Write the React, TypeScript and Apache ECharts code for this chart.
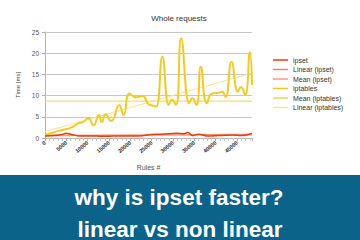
import React, { useEffect, useRef } from "react";
import * as echarts from "echarts";

const titleText = "Whole requests";
const xName = "Rules #";
const yName = "Time [ms]";
const bannerLines = ["why is ipset faster?", "linear vs non linear"];

const iptablesX = [0, 1900, 4100, 6000, 7700, 9000, 10100, 11400, 12600, 13300, 14200, 15500, 17400, 18400, 19800, 21300, 22900, 24200, 25400, 26100, 27500, 29000, 29700, 30700, 31900, 33800, 34500, 35500, 36500, 37900, 39100, 40300, 41500, 42300, 43700, 45200, 45900, 46900, 48000, 48500];
const iptablesY = [0.7, 1.3, 1.9, 2.4, 3.4, 3.8, 4.7, 3.0, 5.4, 3.8, 5.6, 4.0, 7.8, 5.4, 10.5, 9.6, 9.9, 8.0, 7.6, 7.4, 19.2, 7.8, 9.0, 7.8, 23.5, 8.2, 9.4, 7.8, 16.8, 8.2, 10.5, 10.6, 10.9, 9.7, 18.0, 10.9, 12.0, 10.1, 20.2, 12.5];

const ipsetX = [0, 2000, 4000, 5000, 6000, 8000, 10000, 14000, 18000, 22000, 25000, 27000, 29000, 31000, 32500, 33500, 34500, 36000, 38000, 41000, 44000, 46000, 48500];
const ipsetY = [0.5, 0.6, 0.8, 1.1, 0.9, 0.5, 0.5, 0.4, 0.5, 0.5, 0.8, 0.9, 1.0, 1.1, 1.0, 1.3, 0.6, 0.9, 0.5, 0.6, 0.7, 0.6, 1.1];

const linearIpset = [[0, 0.5], [48500, 0.9]];
const meanIpset = [[0, 0.7], [48500, 0.7]];
const linearIptables = [[0, 1.5], [48500, 15.3]];
const meanIptables = [[0, 8.7], [48500, 8.7]];

const X_MAX = 48500;

export default function App() {
  const ref = useRef<HTMLDivElement>(null);
  useEffect(() => {
    document.body.style.margin = "0";
    const chart = echarts.init(ref.current!, null, { renderer: "svg" });
    const font = "Liberation Sans, Arial, sans-serif";
    chart.setOption({
      animation: false,
      backgroundColor: "#ffffff",
      textStyle: { fontFamily: font },
      title: {
        text: titleText,
        left: 174,
        top: 9,
        textAlign: "center",
        textStyle: { fontSize: 8, fontWeight: "normal", color: "#333", fontFamily: font },
      },
      legend: {
        orient: "vertical",
        left: 268,
        top: 51,
        itemWidth: 15,
        itemHeight: 1.5,
        itemGap: 1.5,
        icon: "rect",
        textStyle: { fontSize: 7, color: "#333", lineHeight: 8, fontFamily: font },
        data: ["ipset", "Linear (ipset)", "Mean (ipset)", "iptables", "Mean (iptables)", "Linear (iptables)"],
      },
      grid: { left: 45, right: 108, top: 32, bottom: 102 },
      xAxis: {
        type: "value",
        min: 0,
        max: X_MAX,
        interval: 5000,
        name: xName,
        nameLocation: "middle",
        nameGap: 26,
        nameTextStyle: { fontSize: 7, color: "#555" },
        axisLine: { show: true, lineStyle: { color: "#b3b3b3" } },
        axisTick: { show: true, length: 3, lineStyle: { color: "#b3b3b3" } },
        minorTick: { show: true, splitNumber: 5, length: 3, lineStyle: { color: "#c8c8c8" } },
        splitLine: { show: false },
        axisLabel: {
          rotate: 40,
          fontSize: 5.5,
          fontWeight: "bold",
          color: "#333",
          margin: 4,
          formatter: (v: number) => (v % 5000 === 0 ? String(v) : ""),
        },
      },
      yAxis: {
        type: "value",
        min: 0,
        max: 25,
        interval: 5,
        name: yName,
        nameLocation: "middle",
        nameGap: 20,
        nameTextStyle: { fontSize: 6, color: "#444" },
        axisLine: { show: true, lineStyle: { color: "#b3b3b3" } },
        axisTick: { show: true, length: 3, lineStyle: { color: "#b3b3b3" } },
        splitLine: { show: true, lineStyle: { color: "#c8c8c8" } },
        axisLabel: { fontSize: 6.5, color: "#555", margin: 6 },
      },
      series: [
        {
          name: "ipset",
          type: "line",
          smooth: true,
          symbol: "none",
          data: ipsetX.map((x, i) => [x, ipsetY[i]]),
          lineStyle: { color: "#ee3b0b", width: 1.5 },
          itemStyle: { color: "#ee3b0b" },
          z: 5,
        },
        {
          name: "Linear (ipset)",
          type: "line",
          symbol: "none",
          data: linearIpset,
          lineStyle: { color: "#ff7f5e", width: 1 },
          itemStyle: { color: "#ff7f5e" },
        },
        {
          name: "Mean (ipset)",
          type: "line",
          symbol: "none",
          data: meanIpset,
          lineStyle: { color: "#ff9a7e", width: 1 },
          itemStyle: { color: "#ff9a7e" },
        },
        {
          name: "iptables",
          type: "line",
          smooth: true,
          symbol: "none",
          data: iptablesX.map((x, i) => [x, iptablesY[i]]),
          lineStyle: { color: "#f3cb1e", width: 2 },
          itemStyle: { color: "#f3cb1e" },
          z: 4,
        },
        {
          name: "Mean (iptables)",
          type: "line",
          symbol: "none",
          data: meanIptables,
          lineStyle: { color: "#f6d545", width: 1 },
          itemStyle: { color: "#f6d545" },
        },
        {
          name: "Linear (iptables)",
          type: "line",
          symbol: "none",
          data: linearIptables,
          lineStyle: { color: "#f9e494", width: 1 },
          itemStyle: { color: "#f9e494" },
        },
      ],
      graphic: [
        {
          type: "rect",
          left: 0,
          top: 175,
          shape: { width: 360, height: 65 },
          style: { fill: "#0b638a" },
          z: 10,
        },
        {
          type: "text",
          x: 179,
          y: 197,
          style: {
            text: bannerLines[0],
            fill: "#ffffff",
            fontSize: 22.5,
            fontFamily: font,
            fontWeight: "bold",
            align: "center",
            verticalAlign: "middle",
          },
          z: 11,
        },
        {
          type: "text",
          x: 180,
          y: 229,
          style: {
            text: bannerLines[1],
            fill: "#ffffff",
            fontSize: 22.5,
            fontFamily: font,
            fontWeight: "bold",
            align: "center",
            verticalAlign: "middle",
          },
          z: 11,
        },
      ],
    });
    return () => chart.dispose();
  }, []);
  return <div ref={ref} style={{ width: 360, height: 240 }} />;
}
